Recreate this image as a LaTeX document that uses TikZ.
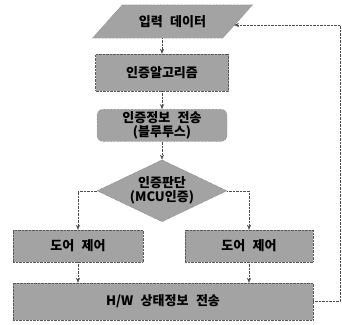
\documentclass[tikz,border=0pt]{standalone}
\usepackage{fontspec}
\setmainfont{Noto Sans CJK KR}[WordSpace=2.5]
\usetikzlibrary{arrows.meta,positioning,shapes.geometric}
\pgfdeclarelayer{bg}
\pgfsetlayers{bg,main}

\begin{document}
\begin{tikzpicture}[
    x=1pt, y=-1pt,
    box/.style={draw=black!65, densely dotted, fill=black!36, minimum width=130pt,
                minimum height=32pt, inner sep=1pt, align=center,
                font=\fontsize{13}{14}\selectfont\bfseries},
    dec/.style={box, shape=diamond, aspect=2, inner sep=0pt,
                minimum width=130pt, minimum height=62pt},
    arr/.style={-{Stealth[length=5pt,width=4pt]}, draw=black!70, densely dotted},
    node distance=18pt
  ]
    \useasboundingbox (0,0) rectangle (342,324);
    \node[box, draw=none, fill=none, minimum height=33pt] (inp) at (172.5,21.5) {입력 데이터};
    \begin{pgfonlayer}{bg}
      % parallelogram behind the input node
      \filldraw[draw=black!65, densely dotted, fill=black!36]
        ([xshift=15pt]inp.north west) -- ([xshift=15pt]inp.north east)
        -- ([xshift=-15pt]inp.south east) -- ([xshift=-15pt]inp.south west) -- cycle;
    \end{pgfonlayer}
    \node[box, minimum width=133pt, minimum height=37pt] (algo) at (162,72.5) {인증알고리즘};
    \node[box, rounded corners=6pt, below=of algo] (send) {인증정보 전송\\(블루투스)};
    \node[dec, below=of send] (judge) {인증판단\\(MCU인증)};
    \node[box] (doorL) at (78,246) {도어 제어};
    \node[box, minimum width=128pt] (doorR) at (249,246) {도어 제어};
    \node[box, minimum width=300pt, minimum height=37pt] (hw) at (163,301.5) {H/W 상태정보 전송};
    \coordinate (fb) at (340,25);
    \coordinate (inpR) at (234,25);
    \draw[arr] (algo.north |- inp.south) -- (algo);
    \draw[arr] (algo) -- (send);
    \draw[arr] (send) -- (judge);
    \draw[arr] (judge.west) -| (doorL.north);
    \draw[arr] (judge.east) -| (doorR.north);
    \draw[arr] (doorL) -- (doorL |- hw.north);
    \draw[arr] (doorR) -- (doorR |- hw.north);
    \draw[arr] (hw.east) -| (fb) -- (inpR);
  \end{tikzpicture}
\end{document}
